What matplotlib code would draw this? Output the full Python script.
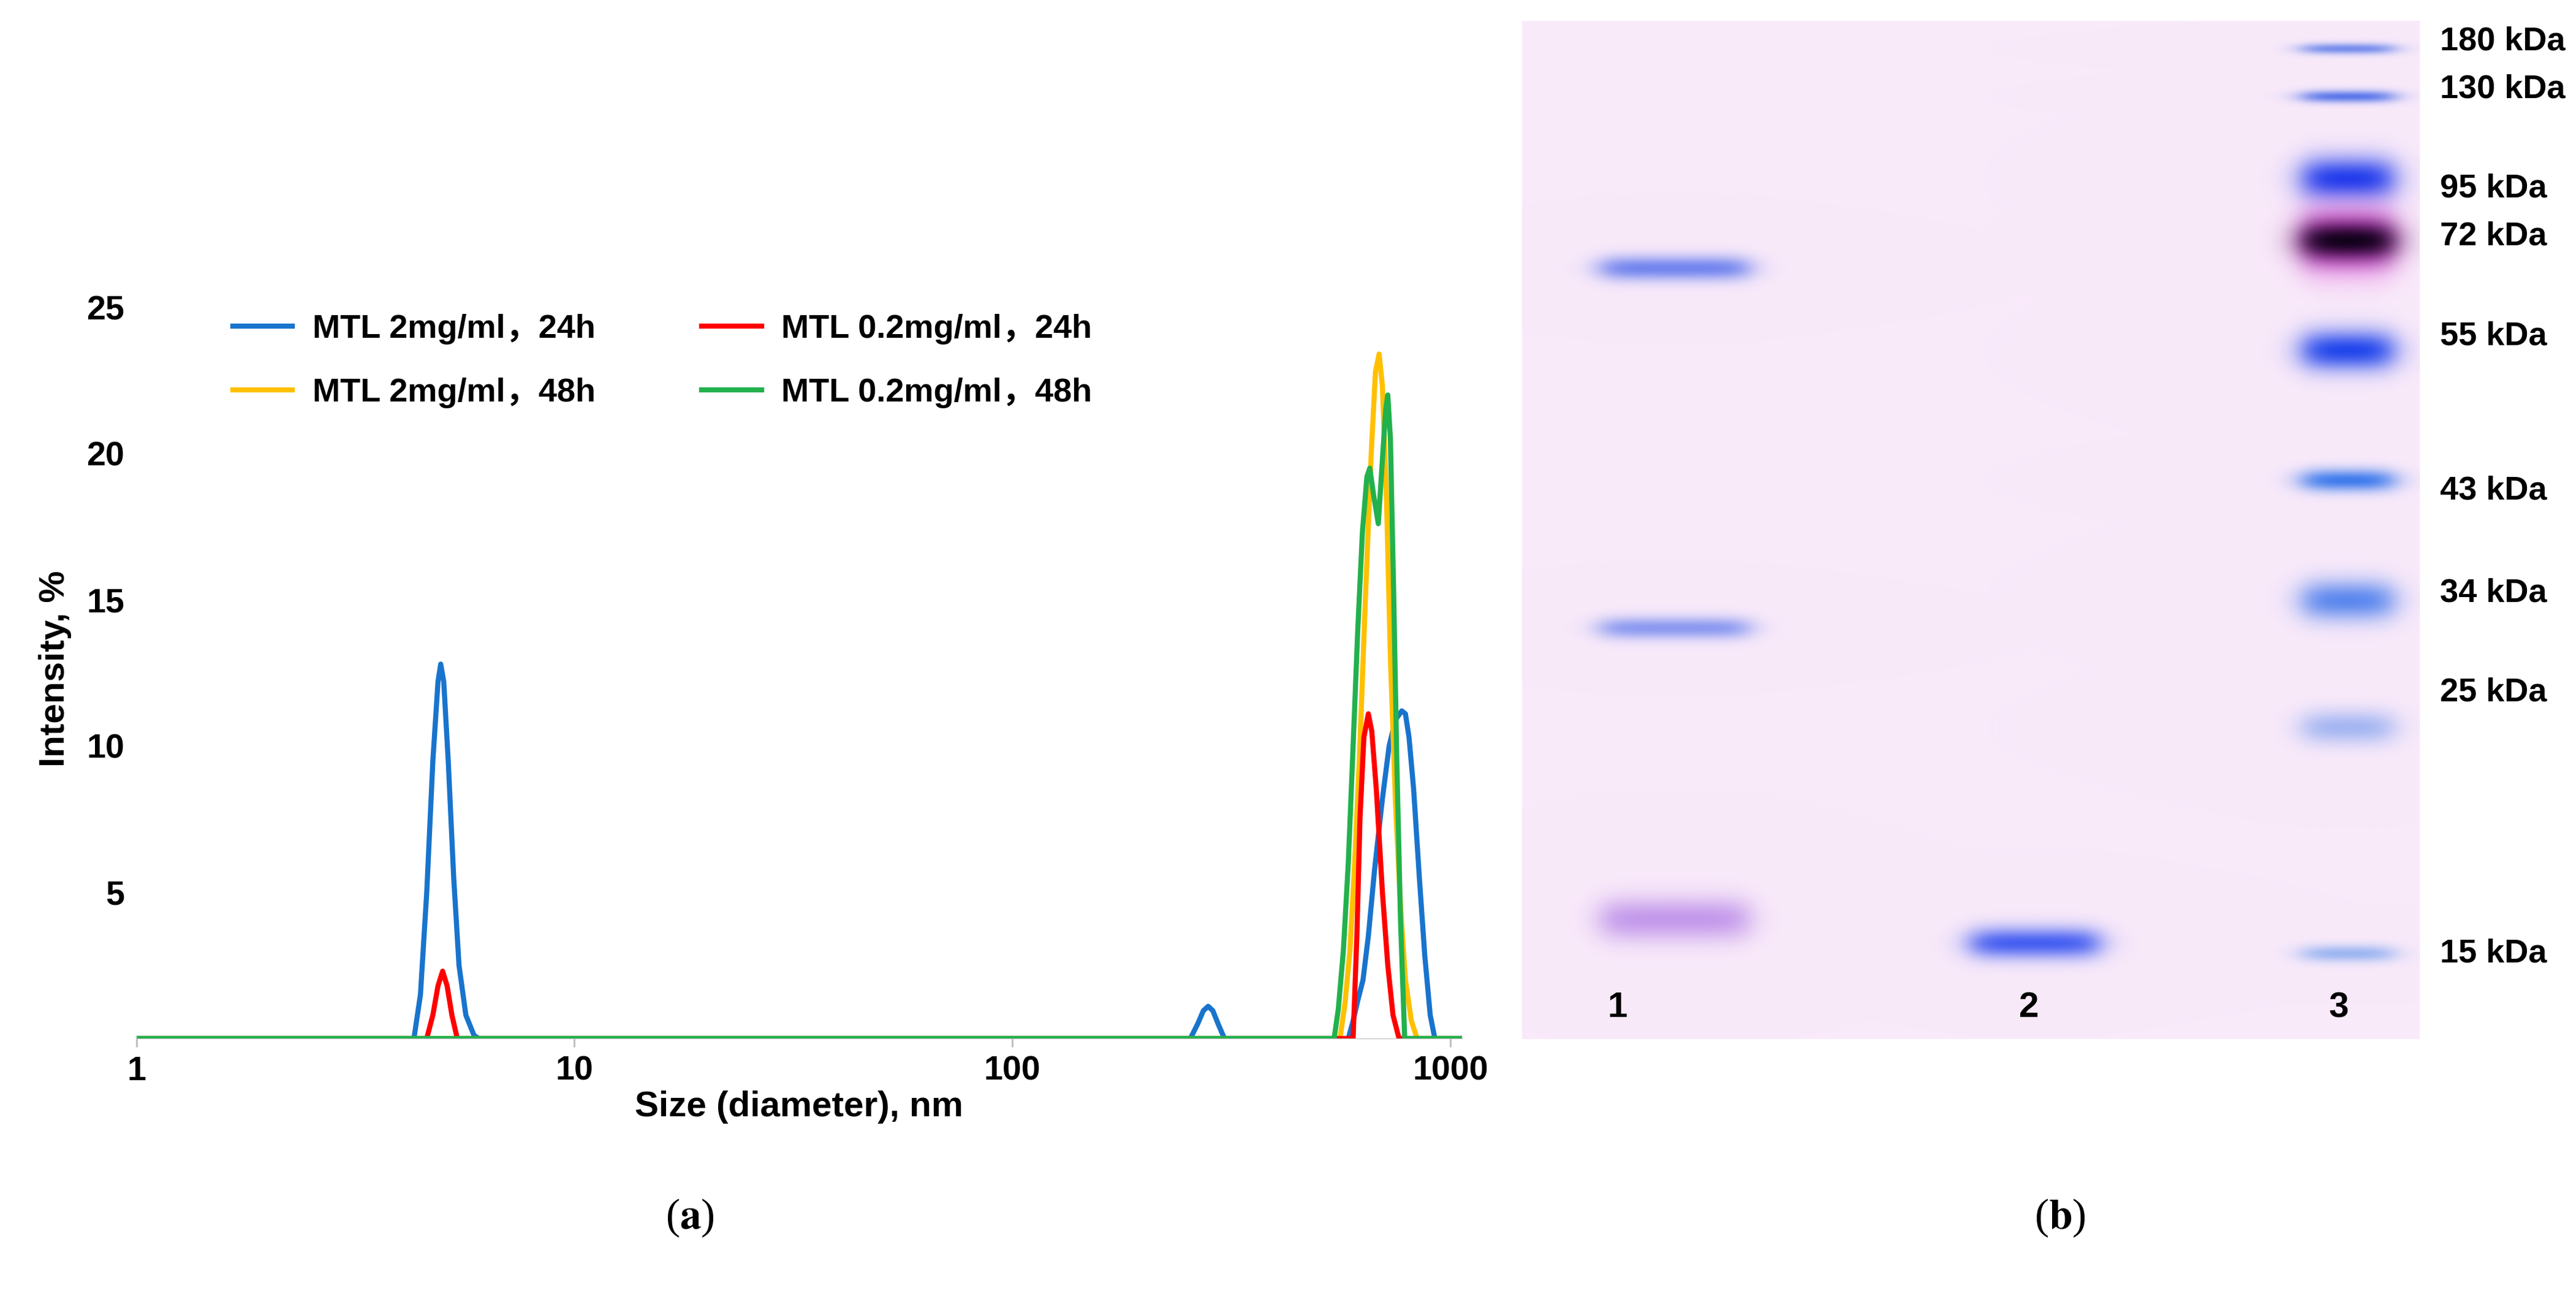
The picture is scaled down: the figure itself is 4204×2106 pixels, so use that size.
import matplotlib.pyplot as plt
import numpy as np

plt.rcParams['font.family'] = ['Liberation Sans', 'Noto Sans CJK SC', 'DejaVu Sans']
plt.rcParams['mathtext.fontset'] = 'stix'

# DLS data
blue_x = [1, 4.3, 4.45, 4.6, 4.75, 4.88, 4.95, 5.03, 5.15, 5.3, 5.45, 5.65, 5.9, 6.05, 255, 265, 273, 280, 287, 295, 305,
          585, 600, 615, 632, 650, 672, 700, 725, 750, 775, 790, 805, 825, 850, 875, 900, 922, 1063]
blue_y = [0, 0, 1.5, 5, 9.5, 12.2, 12.8, 12.2, 9.5, 5.5, 2.5, 0.8, 0.1, 0, 0, 0.5, 0.95, 1.1, 0.95, 0.5, 0,
          0, 0.6, 1.3, 2.0, 3.5, 5.8, 8.2, 10, 10.9, 11.2, 11.1, 10.3, 8.5, 5.5, 2.8, 0.8, 0, 0]
red_x = [1, 4.6, 4.75, 4.88, 5.0, 5.12, 5.25, 5.4, 600, 612, 622, 635, 650, 662, 678, 700, 720, 740, 764, 1063]
red_y = [0, 0, 0.8, 1.8, 2.3, 1.8, 0.8, 0, 0, 3.5, 7.5, 10.3, 11.1, 10.5, 8.5, 5, 2.5, 0.8, 0, 0]
yel_x = [1, 560, 575, 590, 605, 620, 640, 660, 675, 688, 700, 715, 730, 750, 770, 790, 815, 840, 1063]
yel_y = [0, 0, 1.2, 3, 6, 9.5, 15, 20, 22.8, 23.4, 22.3, 18.5, 13, 8, 4.5, 2, 0.6, 0, 0]
grn_x = [1, 543, 555, 570, 585, 600, 615, 630, 645, 655, 668, 685, 700, 712, 720, 730, 742, 755, 770, 787, 1063]
grn_y = [0, 0, 1.0, 3, 6, 10, 14, 17.3, 19.2, 19.5, 18.6, 17.6, 19.8, 21.5, 22, 20.5, 15.5, 9.5, 4, 0, 0]

labels = ['MTL 2mg/ml，24h', 'MTL 2mg/ml，48h', 'MTL 0.2mg/ml，24h', 'MTL 0.2mg/ml，48h']
colors = ['#1874CD', '#FFC000', '#FF0000', '#22B14C']

# gel bands (b): lane x-range (px in gel), band y centre, band thickness, strength, colour
lane_x = {1: (129, 369), 2: (733, 940), 3: (1275, 1420)}
bands = [
    (1, 403, 40, 0.75, (70, 100, 235)),
    (1, 990, 36, 0.65, (80, 110, 235)),
    (1, 1465, 70, 0.6, (160, 100, 225)),
    (2, 1504, 50, 0.9, (50, 80, 240)),
    (3, 45, 18, 0.7, (60, 100, 230)),
    (3, 123, 20, 0.8, (50, 90, 230)),
    (3, 257, 70, 0.95, (20, 50, 235)),
    (3, 358, 100, 0.95, (210, 30, 210)),
    (3, 358, 60, 0.97, (10, 0, 20)),
    (3, 537, 65, 0.95, (20, 60, 235)),
    (3, 749, 36, 0.9, (40, 110, 235)),
    (3, 945, 65, 0.8, (50, 110, 235)),
    (3, 1152, 55, 0.5, (80, 130, 235)),
    (3, 1521, 28, 0.55, (80, 140, 235)),
]
marker_kda = ['180 kDa', '130 kDa', '95 kDa', '72 kDa', '55 kDa', '43 kDa', '34 kDa', '25 kDa', '15 kDa']
marker_label_y = [67, 145, 308, 386, 548, 800, 968, 1130, 1555]

fig = plt.figure(figsize=(42.04, 21.06), dpi=100)

# panel (a)
ax = fig.add_axes([0.053, 0.1956, 0.5145, 0.5664 * 25.3 / 25])
for xs, ys, c, lab in [(blue_x, blue_y, colors[0], labels[0]), (yel_x, yel_y, colors[1], labels[1]),
                       (red_x, red_y, colors[2], labels[2]), (grn_x, grn_y, colors[3], labels[3])]:
    ax.plot(xs, ys, color=c, lw=6, label=lab, solid_joinstyle='round')
ax.set_xscale('log')
ax.set_xlim(1, 1063)
ax.set_ylim(0, 25.3)
ax.set_xticks([1, 10, 100, 1000])
ax.set_xticklabels(['1', '10', '100', '1000'])
ax.minorticks_off()
ax.set_yticks([5, 10, 15, 20, 25])
for s in ['top', 'right', 'left']:
    ax.spines[s].set_visible(False)
ax.spines['bottom'].set_color('#bbbbbb')
ax.tick_params(axis='y', length=0, labelsize=40, pad=14)
ax.tick_params(axis='x', length=10, width=2, color='#bbbbbb', labelsize=40, pad=10)
for t in ax.get_xticklabels() + ax.get_yticklabels():
    t.set_fontweight('bold')
ax.set_xlabel('Size (diameter), nm', fontsize=42, fontweight='bold', labelpad=4)
ax.set_ylabel('Intensity, %', fontsize=42, fontweight='bold', labelpad=18)
ax.legend(loc='upper left', bbox_to_anchor=(0.05, 1.02), ncol=2, frameon=False,
          prop={'weight': 'bold', 'size': 39}, handlelength=1.8, columnspacing=3.2,
          labelspacing=1.0, handletextpad=0.6)

# panel (b): gel image
H, W = 1661, 1465
yy, xx = np.mgrid[0:H, 0:W]
img = np.ones((H, W, 3)) * np.array([249, 234, 250]) / 255.0
for lane, yc, th, st, col in bands:
    x0, x1 = lane_x[lane]
    mx = 1 / (1 + np.exp(-(xx - x0) / 14.0)) / (1 + np.exp((xx - x1) / 14.0))
    my = np.exp(-((yy - yc) / (th / 2.0)) ** 2)
    a = (st * mx * my)[..., None]
    img = img * (1 - a) + np.array(col) / 255.0 * a
gax = fig.add_axes([2484 / 4204, 1 - 1695 / 2106, W / 4204, H / 2106])
gax.imshow(img, extent=(0, W, H, 0), aspect='auto')
gax.axis('off')
for lab, y in zip(marker_kda, marker_label_y):
    fig.text(3982 / 4204, 1 - y / 2106, lab, fontsize=39, fontweight='bold', va='center', ha='left')
for n, x in zip(['1', '2', '3'], [2640, 3311, 3817]):
    fig.text(x / 4204, 1 - 1644 / 2106, n, fontsize=42, fontweight='bold', va='center', ha='center')

fig.text(1126 / 4204, 1 - 1987 / 2106, r'($\mathbf{a}$)', fontsize=50, ha='center', va='center',
         family='Liberation Serif')
fig.text(3362 / 4204, 1 - 1987 / 2106, r'($\mathbf{b}$)', fontsize=50, ha='center', va='center',
         family='Liberation Serif')

fig.savefig('out.png', dpi=100, facecolor='white')
